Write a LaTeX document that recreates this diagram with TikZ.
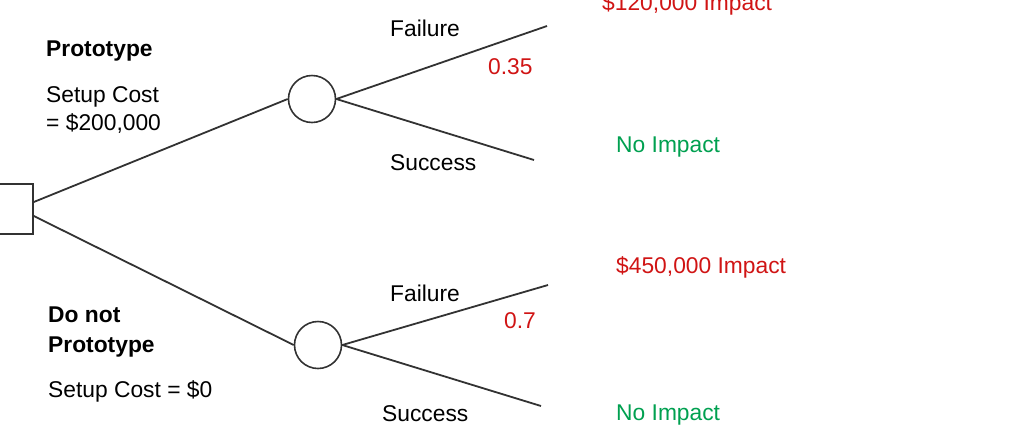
\documentclass[tikz,border=0pt]{standalone}
\usepackage{fontspec}
\setmainfont{Liberation Sans}
\definecolor{impred}{RGB}{208,20,20}
\definecolor{impgreen}{RGB}{0,160,80}
\definecolor{linegray}{RGB}{50,50,50}
\begin{document}
\begin{tikzpicture}[x=1pt,y=-1pt,
  lbl/.style={anchor=base west,inner sep=0pt,font=\fontsize{22.8}{27}\selectfont},
  bold/.style={lbl,font=\fontsize{22.8}{27}\selectfont\bfseries},
  redtxt/.style={lbl,text=impred},
  greentxt/.style={lbl,text=impgreen},
  decbox/.style={draw=linegray,line width=1.6pt,minimum width=50pt,minimum height=50pt,inner sep=0pt},
  chance/.style={draw=linegray,line width=1.6pt,circle,minimum size=47pt,inner sep=0pt},
  branch/.style={draw=linegray,line width=1.8pt}]
\useasboundingbox (0,0) rectangle (1024,424);
% nodes
\node[decbox] (dec) at (8,209) {};
\node[chance] (c1) at (312,99) {};
\node[chance] (c2) at (318,345) {};
\coordinate (f1) at (547,26);
\coordinate (s1) at (534,160);
\coordinate (f2) at (548,285);
\coordinate (s2) at (541,406);
% connectors
\draw[branch] ([yshift=7pt]dec.east) -- (c1.west);
\draw[branch] ([yshift=-7pt]dec.east) -- (c2.west);
\draw[branch] (c1.east) -- (f1);
\draw[branch] (c1.east) -- (s1);
\draw[branch] (c2.east) -- (f2);
\draw[branch] (c2.east) -- (s2);
% labels
\node[bold] (p1) at (46,56) {Prototype};
\node[lbl] (sc1a) at (46,102) {Setup Cost};
\node[lbl] (sc1b) at (46,130) {= \$200,000};
\node[bold] (p2a) at (48,322) {Do not};
\node[bold] (p2b) at (48,352) {Prototype};
\node[lbl] (sc2) at (48,397) {Setup Cost = \$0};
\node[lbl] (fa1) at (390,36) {Failure};
\node[lbl] (su1) at (390,170) {Success};
\node[redtxt] (pr1) at (488,74) {0.35};
\node[redtxt] (im1) at (602,10) {\$120,000 Impact};
\node[greentxt] (ni1) at (616,152) {No Impact};
\node[lbl] (fa2) at (390,301) {Failure};
\node[lbl] (su2) at (382,421) {Success};
\node[redtxt] (pr2) at (504,328) {0.7};
\node[redtxt] (im2) at (616,273) {\$450,000 Impact};
\node[greentxt] (ni2) at (616,420) {No Impact};
\end{tikzpicture}
\end{document}
